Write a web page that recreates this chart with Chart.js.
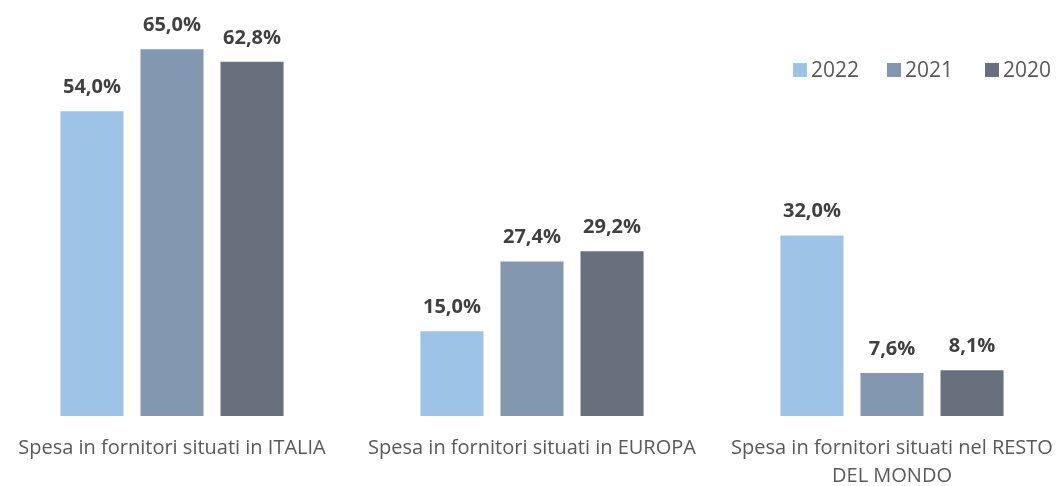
<!DOCTYPE html>
<html>
<head>
<meta charset="utf-8">
<script src="https://cdn.jsdelivr.net/npm/chart.js@4"></script>
<style>
    html, body { margin: 0; padding: 0; background: #fff; overflow: hidden; }
    #wrap { position: absolute; left: -8px; top: 0; width: 1080px; height: 486px; }
</style>
</head>
<body>
<div id="wrap"><canvas id="chart"></canvas></div>
<script>
/* ── Data ─────────────────────────────────────────────────────── */

const CATEGORIES = [
    'Spesa in fornitori situati in ITALIA',
    'Spesa in fornitori situati in EUROPA',
    ['Spesa in fornitori situati nel RESTO', 'DEL MONDO'],
];
const SERIES_NAMES = ['2022', '2021', '2020'];
const VALUES_2022 = [54.0, 15.0, 32.0];
const VALUES_2021 = [65.0, 27.4, 7.6];
const VALUES_2020 = [62.8, 29.2, 8.1];
const SERIES_COLORS = ['#9dc3e6', '#8497b0', '#686f7d'];

const FONT = '"Open Sans", sans-serif';

/* ── Plugins: value labels + legend ───────────────────────────── */

const valueLabels = {
    id: 'valueLabels',
    afterDatasetsDraw(chart) {
        const ctx = chart.ctx;
        ctx.save();
        ctx.font = `bold 20px ${FONT}`;
        ctx.fillStyle = '#404040';
        ctx.textAlign = 'center';
        ctx.textBaseline = 'alphabetic';
        chart.data.datasets.forEach((ds, i) => {
            chart.getDatasetMeta(i).data.forEach((bar, j) => {
                const txt = ds.data[j].toFixed(1).replace('.', ',') + '%';
                ctx.fillText(txt, bar.x, bar.y - 18);
            });
        });
        ctx.restore();
    }
};

const sideLegend = {
    id: 'sideLegend',
    afterDraw(chart) {
        const ctx = chart.ctx;
        ctx.save();
        ctx.font = `21px ${FONT}`;
        ctx.textBaseline = 'middle';
        ctx.textAlign = 'left';
        const y = 70, off = 8;
        const xs = [793, 887, 985];
        SERIES_NAMES.forEach((name, i) => {
            ctx.fillStyle = SERIES_COLORS[i];
            ctx.fillRect(xs[i] + off, y - 7, 14, 14);
            ctx.fillStyle = '#595959';
            ctx.fillText(name, xs[i] + off + 18, y + 1);
        });
        ctx.restore();
    }
};

/* ── Chart ────────────────────────────────────────────────────── */

const mkSet = (label, data, color) => ({
    label, data,
    backgroundColor: color,
    borderWidth: 0,
    barPercentage: 0.7875,
    categoryPercentage: 0.667,
});

new Chart(document.getElementById('chart'), {
    type: 'bar',
    data: {
        labels: CATEGORIES,
        datasets: [
            mkSet(SERIES_NAMES[0], VALUES_2022, SERIES_COLORS[0]),
            mkSet(SERIES_NAMES[1], VALUES_2021, SERIES_COLORS[1]),
            mkSet(SERIES_NAMES[2], VALUES_2020, SERIES_COLORS[2]),
        ]
    },
    options: {
        responsive: true,
        maintainAspectRatio: false,
        animation: false,
        layout: { padding: { top: 21, left: 0, right: 0, bottom: 0 } },
        scales: {
            x: {
                grid: { display: false },
                border: { display: false },
                afterFit(scale) { scale.height = 70; },
                ticks: {
                    color: '#595959',
                    font: { family: FONT, size: 20, lineHeight: '28px' },
                    padding: 10,
                    maxRotation: 0,
                    autoSkip: false,
                }
            },
            y: {
                display: false,
                min: 0, max: 70,
            }
        },
        plugins: {
            legend: { display: false },
            tooltip: { enabled: false },
        }
    },
    plugins: [valueLabels, sideLegend]
});
</script>
</body>
</html>
